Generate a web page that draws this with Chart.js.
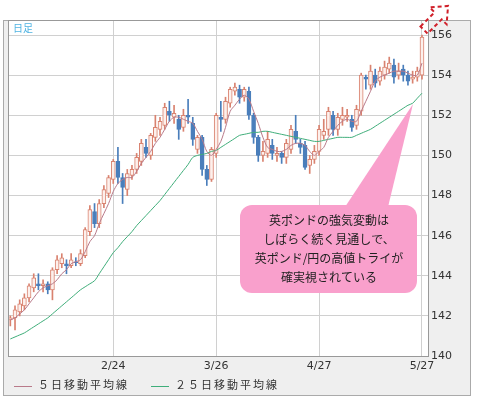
<!DOCTYPE html>
<html><head><meta charset="utf-8">
<script src="https://cdn.jsdelivr.net/npm/chart.js@4/dist/chart.umd.min.js"></script>
<style>
  body { margin:0; width:477px; height:401px; background:#fff; position:relative; overflow:hidden;
         font-family:"Noto Sans CJK JP", sans-serif; }
  #frame { position:absolute; left:3px; top:20px; width:466px; height:374px; background:#efefef; border:1px solid #aaa; }
  #wrap { position:absolute; left:0; top:0; width:477px; height:401px; }
  #legend { position:absolute; left:14px; top:376px; font-size:11px; color:#333; letter-spacing:2px; }
  #legend span.ln { display:inline-block; width:18px; height:1px; vertical-align:middle; margin-right:6px; }
</style></head>
<body>
<div id="frame"></div>
<div id="wrap"><canvas id="c" width="477" height="401"></canvas></div>
<div id="legend"><span class="ln" style="background:#b97a8a"></span>５日移動平均線<span style="display:inline-block;width:22px"></span><span class="ln" style="background:#3fae7a"></span>２５日移動平均線</div>
<script>
// daily candles, GBP/JPY
var OPEN  = [141.8,141.9,142.2,142.5,142.9,143.4,143.6,143.5,143.6,143.3,144.3,144.6,144.6,144.5,144.7,144.6,145.0,146.2,147.2,146.6,
             147.6,148.1,148.8,149.7,148.9,148.3,149.0,149.3,149.7,150.4,150.0,150.9,151.3,151.5,152.2,151.9,151.8,151.4,152.0,151.6,
             150.3,150.9,149.3,148.8,150.1,151.9,151.8,152.6,153.2,153.3,152.9,153.2,152.0,150.9,150.0,150.1,150.5,150.0,150.1,149.9,
             150.3,151.2,150.6,150.5,149.5,149.8,150.2,151.0,151.3,152.0,151.3,151.8,151.9,151.8,151.5,152.2,153.9,153.5,154.0,153.7,
             154.0,154.3,154.5,154.0,154.3,154.0,153.8,153.9,154.0];
var CLOSE = [141.9,142.3,142.6,142.9,143.5,143.9,143.5,143.6,143.3,144.3,144.8,144.9,144.5,144.8,144.65,145.1,146.3,147.3,146.6,147.6,
             148.3,148.9,149.7,148.9,148.4,149.1,149.3,149.9,150.6,150.1,151.0,151.4,151.7,152.4,152.0,152.1,151.3,152.0,151.9,150.8,
             150.9,149.3,148.8,150.3,152.0,151.8,152.7,153.3,153.4,152.9,153.3,152.0,150.9,150.0,150.2,150.8,150.1,150.1,149.9,150.6,
             151.3,150.8,150.4,149.4,149.8,150.2,151.3,151.2,152.2,151.3,151.9,152.0,152.0,151.4,152.3,154.0,153.8,154.2,153.6,154.2,
             154.4,154.6,153.9,154.2,154.0,153.7,153.9,154.2,155.9];
var HIGH  = [142.0,142.5,142.8,143.1,143.6,144.1,144.1,143.8,143.7,144.4,145.0,145.1,144.8,145.1,144.9,145.3,146.4,147.5,147.6,147.8,
             148.5,149.0,149.8,150.4,149.1,149.3,149.5,150.1,150.8,150.8,151.1,152.0,151.9,152.6,152.7,152.5,152.0,152.3,152.8,151.9,
             151.0,151.0,149.5,150.4,152.1,152.7,152.9,153.4,153.6,153.5,153.4,153.4,152.1,151.0,150.7,151.2,150.8,150.4,150.2,150.8,
             151.5,152.0,150.8,150.7,150.0,150.5,151.5,151.8,152.4,152.2,152.1,152.4,152.3,152.0,152.5,154.1,154.0,154.5,154.3,154.4,
             154.7,154.9,154.8,154.6,154.5,154.2,154.2,154.4,156.0];
var LOW   = [141.5,141.3,142.0,142.3,142.7,143.2,143.3,143.2,143.1,142.8,144.1,144.4,144.1,144.4,144.5,144.5,144.9,146.0,146.4,146.4,
             147.4,147.9,148.6,148.6,147.6,148.0,148.8,149.1,149.5,149.9,149.8,150.7,151.0,151.3,151.7,151.6,150.8,151.2,151.6,150.5,
             150.1,149.0,148.5,148.7,149.9,151.2,151.6,152.4,153.0,152.6,152.7,151.8,150.6,149.7,149.7,149.9,149.8,149.7,149.6,149.6,
             150.1,150.6,150.1,149.3,149.1,149.6,150.0,150.8,151.0,151.0,151.0,151.5,151.7,151.2,151.3,152.0,153.3,153.3,153.4,153.5,
             153.8,154.1,153.6,153.8,153.7,153.5,153.6,153.7,153.8];
var MA5   = [141.8,141.9,142.1,142.3,142.6,142.9,143.2,143.4,143.5,143.6,143.8,144.1,144.3,144.6,144.7,144.8,145.2,145.7,146.0,146.6,
             147.1,147.6,148.2,148.6,148.8,148.9,148.9,149.2,149.6,149.9,150.2,150.6,150.9,151.3,151.7,151.9,151.9,151.8,151.7,151.6,
             151.2,150.8,150.2,150.0,150.3,150.7,151.4,152.2,152.5,152.8,153.0,152.8,152.2,151.6,150.9,150.4,150.3,150.2,150.2,150.3,
             150.5,150.6,150.6,150.5,150.2,150.0,150.2,150.4,150.9,151.2,151.5,151.7,151.8,151.7,151.7,152.2,152.7,153.2,153.7,153.9,
             154.0,154.1,154.2,154.2,154.2,154.1,154.0,154.0,154.6];
var MA25  = [140.85,140.95,141.05,141.15,141.3,141.45,141.6,141.75,141.9,142.1,142.3,142.5,142.7,142.9,143.1,143.3,143.45,143.6,143.75,
             144.1,144.45,144.8,145.15,145.4,145.7,145.95,146.2,146.5,146.75,147.0,147.25,147.5,147.75,148.05,148.35,148.65,148.95,149.25,
             149.55,149.9,150.0,150.05,150.1,150.2,150.25,150.4,150.55,150.7,150.85,151.0,151.05,151.1,151.15,151.15,151.2,151.2,151.15,
             151.1,151.05,151.0,150.95,150.9,150.85,150.8,150.75,150.7,150.7,150.75,150.8,150.85,150.9,150.9,150.9,150.9,151.0,151.1,
             151.2,151.3,151.45,151.6,151.75,151.9,152.05,152.2,152.35,152.5,152.6,152.85,153.1];
var TICK_DATES = { 22: '2/24', 44: '3/26', 66: '4/27', 88: '5/27' };
var Y_TICKS = [140, 142, 144, 146, 148, 150, 152, 154, 156];
var NOTE = ['英ポンドの強気変動は', 'しばらく続く見通しで、', '英ポンド/円の高値トライが', '確実視されている'];

var N = 90; // one empty slot after the last candle
var labels = [];
for (var i = 0; i < N; i++) labels.push(TICK_DATES[i] || '');
var UP = '#d9826f', DOWN = '#4a7ebb';
function isUp(i) { return CLOSE[i] >= OPEN[i]; }
var body = OPEN.map(function (o, i) { return [o, CLOSE[i]]; });
var wick = HIGH.map(function (h, i) { return [LOW[i], h]; });

var frame = {
  id: 'frame',
  beforeDatasetsDraw: function (ch) {
    var a = ch.chartArea, c = ch.ctx;
    c.save(); c.fillStyle = '#fff'; c.globalCompositeOperation = 'destination-over';
    c.fillRect(a.left, a.top, a.right - a.left, a.bottom - a.top); c.restore();
  },
  afterDraw: function (ch) {
    var a = ch.chartArea, c = ch.ctx;
    c.save();
    c.strokeStyle = '#999'; c.lineWidth = 1;
    c.strokeRect(a.left + 0.5, a.top + 0.5, a.right - a.left - 1, a.bottom - a.top);
    c.fillStyle = '#4fb3e2'; c.font = '10px "Noto Sans CJK JP"'; c.textBaseline = 'top';
    c.fillText('日足', 13, 23);
    // callout
    c.fillStyle = '#f9a0cc';
    c.beginPath(); c.moveTo(345, 207); c.lineTo(413, 104); c.lineTo(388, 207); c.closePath(); c.fill();
    var x = 240, y = 205, w = 177, h = 88, r = 12;
    c.beginPath(); c.moveTo(x + r, y); c.arcTo(x + w, y, x + w, y + h, r); c.arcTo(x + w, y + h, x, y + h, r);
    c.arcTo(x, y + h, x, y, r); c.arcTo(x, y, x + w, y, r); c.closePath(); c.fill();
    c.fillStyle = '#222'; c.font = '12px "Noto Sans CJK JP"'; c.textAlign = 'center'; c.textBaseline = 'middle';
    NOTE.forEach(function (t, k) { c.fillText(t, 329, 220 + k * 19); });
    // dashed arrow
    c.translate(424, 30); c.rotate(-Math.PI / 4);
    c.strokeStyle = '#d0202a'; c.lineWidth = 2; c.setLineDash([4, 3]);
    c.beginPath(); c.moveTo(0, -5); c.lineTo(20, -5); c.lineTo(20, -12); c.lineTo(34, 0); c.lineTo(20, 12); c.lineTo(20, 5); c.lineTo(0, 5); c.closePath(); c.stroke();
    c.restore();
  }
};

new Chart(document.getElementById('c'), {
  type: 'bar',
  data: { labels: labels, datasets: [
    { type: 'line', data: MA5, borderColor: '#b97a8a', borderWidth: 1, pointRadius: 0, tension: 0.3, order: 0 },
    { type: 'line', data: MA25, borderColor: '#3fae7a', borderWidth: 1, pointRadius: 0, tension: 0.3, order: 0 },
    { data: body, grouped: false, barThickness: 4, borderWidth: 1, borderSkipped: false, order: 1,
      backgroundColor: OPEN.map(function (_, i) { return isUp(i) ? '#fdf0ec' : DOWN; }),
      borderColor: OPEN.map(function (_, i) { return isUp(i) ? UP : DOWN; }) },
    { data: wick, grouped: false, barThickness: 1, order: 2,
      backgroundColor: OPEN.map(function (_, i) { return isUp(i) ? UP : DOWN; }) }
  ]},
  options: {
    animation: false, responsive: false,
    layout: { padding: { left: 8, top: 20, right: 0, bottom: 0 } },
    plugins: { legend: { display: false }, tooltip: { enabled: false } },
    scales: {
      x: { offset: true, border: { display: false },
        grid: { offset: false, drawTicks: false, color: function (c) { return TICK_DATES[c.index] ? '#d0d0d0' : 'rgba(0,0,0,0)'; } },
        ticks: { autoSkip: false, maxRotation: 0, padding: 4, color: '#333', font: { size: 11, family: 'DejaVu Sans' } },
        afterFit: function (s) { s.height = 45; } },
      y: { position: 'right', min: 140, max: 156.75, border: { display: false },
        afterBuildTicks: function (s) { s.ticks = Y_TICKS.map(function (v) { return { value: v }; }); },
        grid: { color: '#d0d0d0', drawTicks: false },
        ticks: { padding: 2, color: '#333', font: { size: 11, family: 'DejaVu Sans' } },
        afterFit: function (s) { s.width = 48; } }
    }
  },
  plugins: [frame]
});
</script>
</body></html>
